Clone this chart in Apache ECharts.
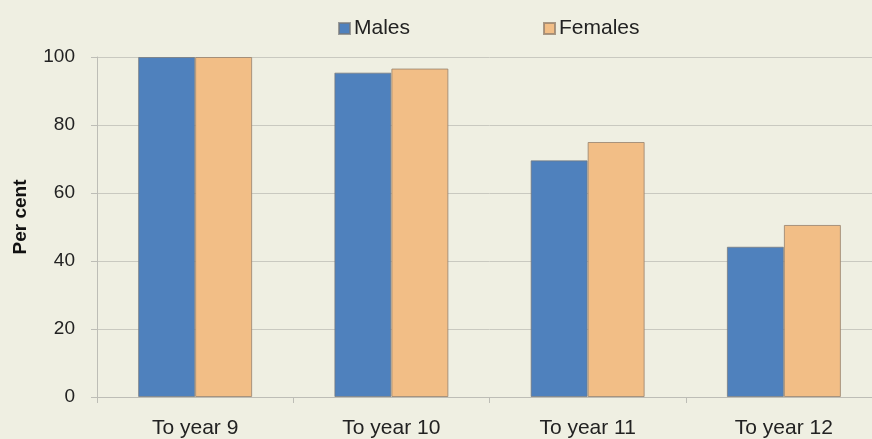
<!DOCTYPE html>
<html>
<head>
<meta charset="utf-8">
<script src="https://cdn.jsdelivr.net/npm/echarts@6/dist/echarts.min.js"></script>
<style>
html,body{margin:0;padding:0;background:#efefe2;overflow:hidden;width:872px;height:439px;}
#chart{width:882px;height:439px;}
</style>
</head>
<body>
<div id="chart"></div>
<script>
const categories = ['To year 9', 'To year 10', 'To year 11', 'To year 12'];
const males = [100, 95.4, 69.6, 44.2];
const females = [100, 96.6, 75.0, 50.6];
const yTicks = [0, 20, 40, 60, 80, 100];

const chart = echarts.init(document.getElementById('chart'), null, {renderer: 'canvas'});
const font = 'Liberation Sans, Arial, sans-serif';
chart.setOption({
  backgroundColor: '#efefe2',
  animation: false,
  legend: {
    left: 333, top: 13,
    itemWidth: 11, itemHeight: 11, itemGap: 133,
    textStyle: {fontFamily: font, fontSize: 21, color: '#222', padding: [0, 0, 0, -1]},
    data: [
      {name: 'Males', icon: 'rect'},
      {name: 'Females', icon: 'rect'}
    ]
  },
  grid: {left: 97, top: 57, width: 785, height: 340},
  xAxis: {
    type: 'category',
    data: categories,
    axisLine: {lineStyle: {color: '#bdbdb6', width: 1}},
    axisTick: {show: true, length: 6, lineStyle: {color: '#bdbdb6'}},
    axisLabel: {fontFamily: font, fontSize: 21, color: '#222', margin: 21}
  },
  yAxis: {
    type: 'value',
    min: yTicks[0], max: yTicks[yTicks.length - 1], interval: 20,
    name: 'Per cent',
    nameLocation: 'middle',
    nameGap: 67,
    nameTextStyle: {fontFamily: font, fontSize: 19, fontWeight: 'bold', color: '#111', padding: [0, 0, 0, 20]},
    axisLine: {show: true, lineStyle: {color: '#bdbdb6'}},
    axisTick: {show: true, length: 6, lineStyle: {color: '#bdbdb6'}},
    axisLabel: {fontFamily: font, fontSize: 19, color: '#222', margin: 22},
    splitLine: {lineStyle: {color: '#c9c9c0', width: 1}}
  },
  series: [
    {
      name: 'Males', type: 'bar', data: males,
      barWidth: 57, barGap: '0%',
      itemStyle: {color: '#4f81bd', borderColor: 'rgba(120,120,120,0.7)', borderWidth: 1}
    },
    {
      name: 'Females', type: 'bar', data: females,
      barWidth: 57,
      itemStyle: {color: '#f2be86', borderColor: 'rgba(150,130,110,0.8)', borderWidth: 1}
    }
  ]
});
</script>
</body>
</html>
